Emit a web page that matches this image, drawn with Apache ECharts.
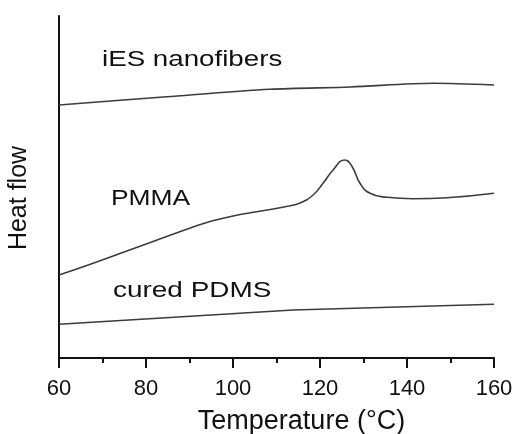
<!DOCTYPE html>
<html>
<head>
<meta charset="utf-8">
<script src="https://cdn.jsdelivr.net/npm/echarts@6/dist/echarts.min.js"></script>
<style>
html,body{margin:0;padding:0;background:#fff;}
#chart{width:515px;height:434px;}
</style>
</head>
<body>
<div id="chart"></div>
<script>
// Temperature (°C) values and heat flow (arbitrary units)
var iesTemps = [60, 84.8, 108.5, 127, 146, 160];
var iesFlow  = [25.3, 26.13, 26.87, 27.1, 27.47, 27.3];

var pmmaTemps = [60, 66.7, 74.5, 82.1, 89.7, 93.6, 97.5, 101.1, 105.1, 112.0, 115.4, 118.4, 120.7, 123.0, 125.7, 127.4, 129.2, 131.5, 135.4, 141.4, 149.2, 160];
var pmmaFlow  = [8.3, 9.3, 10.53, 11.73, 12.93, 13.5, 13.95, 14.3, 14.6, 15.13, 15.5, 16.3, 17.47, 18.8, 19.8, 19.13, 17.47, 16.47, 16.07, 15.93, 16.03, 16.47];

var pdmsTemps = [60, 113.8, 160];
var pdmsFlow  = [3.37, 4.8, 5.37];

var xTicks = [60, 80, 100, 120, 140, 160];
var seriesNames = ['iES nanofibers', 'PMMA', 'cured PDMS'];

function pairs(xs, ys) { return xs.map(function (x, i) { return [x, ys[i]]; }); }

var FONT = '"Liberation Sans", Arial, Helvetica, sans-serif';
var lineColor = '#3c3c3c';

var chart = echarts.init(document.getElementById('chart'), null, {renderer: 'canvas'});
chart.setOption({
  animation: false,
  backgroundColor: '#ffffff',
  grid: {left: 59, right: 21, top: 16, bottom: 76, containLabel: false, outerBoundsMode: 'none'},
  xAxis: {
    type: 'value',
    min: 60, max: 160, interval: 20,
    name: 'Temperature (°C)',
    nameLocation: 'middle',
    nameGap: 50,
    nameTextStyle: {fontFamily: FONT, fontSize: 27, color: '#111', padding: [0, 0, 0, 50]},
    axisLine: {show: true, lineStyle: {color: '#111', width: 2}},
    axisTick: {show: true, length: 10, lineStyle: {color: '#111', width: 2}},
    minorTick: {show: true, splitNumber: 2, length: 5, lineStyle: {color: '#111', width: 2}},
    axisLabel: {
      fontFamily: FONT, fontSize: 22, color: '#111', margin: 20,
      formatter: function (v) { return xTicks.indexOf(v) >= 0 ? String(v) : ''; }
    },
    splitLine: {show: false}
  },
  yAxis: {
    type: 'value',
    min: 0, max: 34.2,
    name: 'Heat flow',
    nameLocation: 'middle',
    nameRotate: 90,
    nameGap: 27,
    nameTextStyle: {fontFamily: FONT, fontSize: 25, color: '#111', padding: [0, 0, 0, -22]},
    axisLine: {show: true, onZero: false, lineStyle: {color: '#111', width: 2}},
    axisTick: {show: false},
    axisLabel: {show: false},
    splitLine: {show: false}
  },
  series: [
    {name: seriesNames[0], type: 'line', data: pairs(iesTemps, iesFlow), smooth: 0.3, showSymbol: false,
     lineStyle: {color: lineColor, width: 1.6}},
    {name: seriesNames[1], type: 'line', data: pairs(pmmaTemps, pmmaFlow), smooth: 0.5, showSymbol: false,
     lineStyle: {color: lineColor, width: 1.6}},
    {name: seriesNames[2], type: 'line', data: pairs(pdmsTemps, pdmsFlow), smooth: false, showSymbol: false,
     lineStyle: {color: lineColor, width: 1.6}}
  ],
  graphic: [
    {type: 'text', x: 102, y: 60, scaleX: 1.26, style: {text: seriesNames[0], fontFamily: FONT, fontSize: 22, fill: '#111', align: 'left', verticalAlign: 'middle'}},
    {type: 'text', x: 111, y: 199, scaleX: 1.2, style: {text: seriesNames[1], fontFamily: FONT, fontSize: 22, fill: '#111', align: 'left', verticalAlign: 'middle'}},
    {type: 'text', x: 113, y: 291, scaleX: 1.27, style: {text: seriesNames[2], fontFamily: FONT, fontSize: 22, fill: '#111', align: 'left', verticalAlign: 'middle'}}
  ]
});
</script>
</body>
</html>
